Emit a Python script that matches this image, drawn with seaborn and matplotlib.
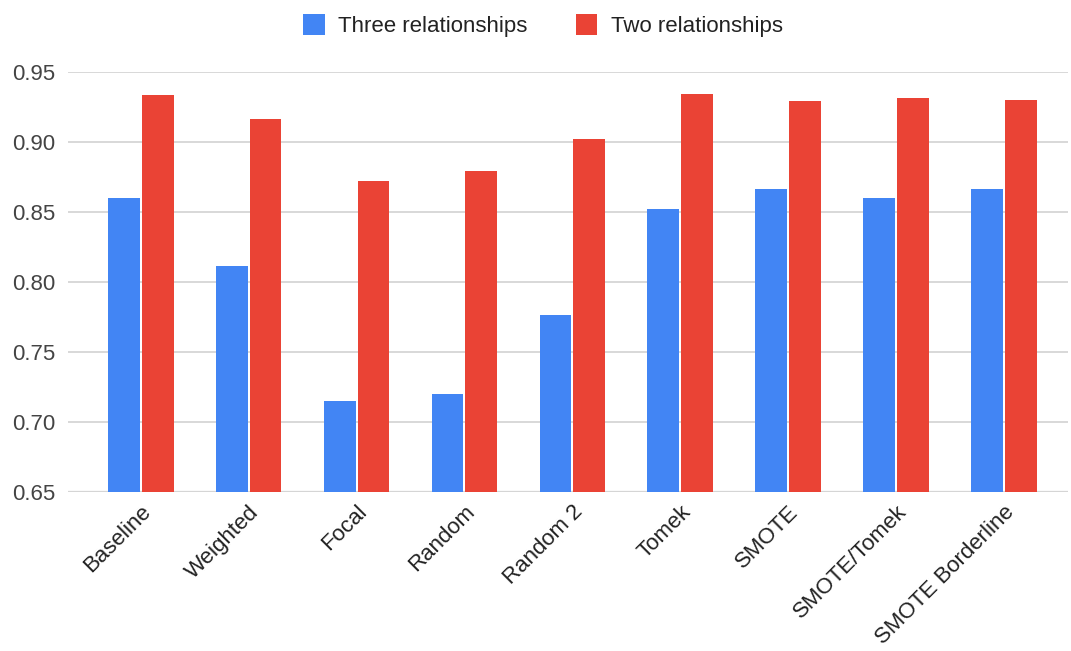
import matplotlib
matplotlib.use("Agg")
import matplotlib.pyplot as plt
import seaborn as sns
import pandas as pd

methods = ["Baseline", "Weighted", "Focal", "Random", "Random 2", "Tomek",
           "SMOTE", "SMOTE/Tomek", "SMOTE Borderline"]
three_rel = [0.860, 0.811, 0.715, 0.720, 0.776, 0.852, 0.866, 0.860, 0.866]
two_rel = [0.933, 0.916, 0.872, 0.879, 0.902, 0.934, 0.929, 0.931, 0.930]
series_names = ["Three relationships", "Two relationships"]
y_ticks = [0.65, 0.70, 0.75, 0.80, 0.85, 0.90, 0.95]

df = pd.DataFrame({
    "method": methods * 2,
    "score": three_rel + two_rel,
    "series": [series_names[0]] * len(methods) + [series_names[1]] * len(methods),
})

sns.set_theme(style="white")
plt.rcParams["font.family"] = ["Liberation Sans", "DejaVu Sans"]

fig = plt.figure(figsize=(10.71, 6.51), dpi=100)
ax = fig.add_axes([68 / 1071, 1 - 491.7 / 651, 1000 / 1071, (491.7 - 71.7) / 651])

palette = {series_names[0]: "#4285F4", series_names[1]: "#EA4335"}
sns.barplot(data=df, x="method", y="score", hue="series", order=methods,
            hue_order=series_names, palette=palette, width=0.627, gap=0.06,
            saturation=1, linewidth=0, ax=ax, legend=True)

ax.set_ylim(0.65, 0.95)
ax.set_xlim(-0.674, 8.593)
ax.set_yticks(y_ticks)
ax.set_yticklabels([f"{v:.2f}" for v in y_ticks], fontsize=16, color="#444444")
ax.yaxis.grid(True, color="#d6d6d6", linewidth=1.3)
ax.set_axisbelow(True)
for s in ax.spines.values():
    s.set_visible(False)
ax.axhline(0.65, color="#cfcfcf", linewidth=1.6, zorder=0.5)
ax.tick_params(axis="y", length=0, pad=9)
ax.tick_params(axis="x", length=0, pad=7)
ax.set_xlabel("")
ax.set_ylabel("")
ax.set_xticks(range(len(methods)))
ax.set_xticklabels(methods, rotation=45, ha="right", rotation_mode="anchor",
                   fontsize=16, color="#222222")

handles, labels = ax.get_legend_handles_labels()
ax.get_legend().remove()
fig.legend(handles, labels, loc="center", bbox_to_anchor=(0.507, 0.961),
           ncol=2, frameon=False, fontsize=16, handlelength=0.95,
           handleheight=1.05, handletextpad=0.6, columnspacing=2.2,
           labelcolor="#222222")

fig.savefig("out.png", dpi=100)
